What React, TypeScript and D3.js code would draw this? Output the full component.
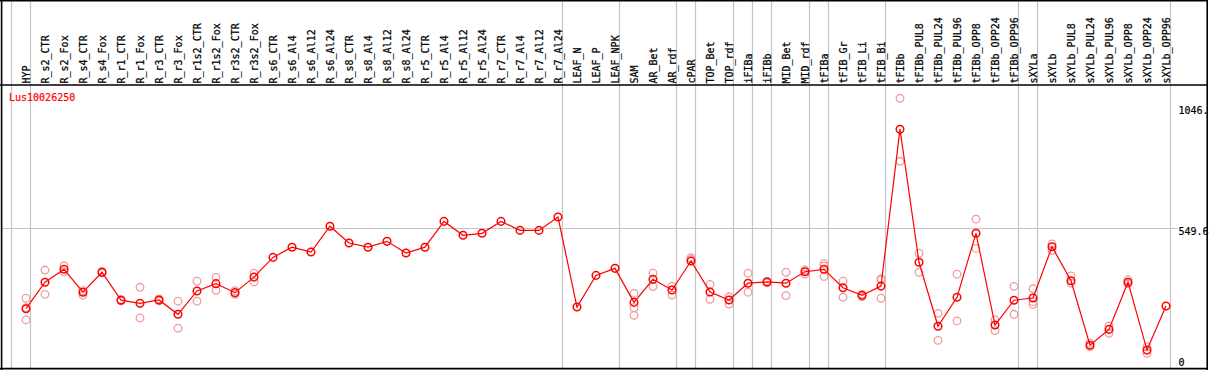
import React from "react";
import * as d3 from "d3";

const categories = [
  "HYP", "R_s2_CTR", "R_s2_Fox", "R_s4_CTR", "R_s4_Fox", "R_r1_CTR", "R_r1_Fox", "R_r3_CTR", "R_r3_Fox",
  "R_r1s2_CTR", "R_r1s2_Fox", "R_r3s2_CTR", "R_r3s2_Fox", "R_s6_CTR", "R_s6_Al4", "R_s6_Al12", "R_s6_Al24",
  "R_s8_CTR", "R_s8_Al4", "R_s8_Al12", "R_s8_Al24", "R_r5_CTR", "R_r5_Al4", "R_r5_Al12", "R_r5_Al24",
  "R_r7_CTR", "R_r7_Al4", "R_r7_Al12", "R_r7_Al24", "LEAF_N", "LEAF_P", "LEAF_NPK", "SAM", "AR_Bet", "AR_rdf",
  "cPAR", "TOP_Bet", "TOP_rdf", "iFIBa", "iFIBb", "MID_Bet", "MID_rdf", "tFIBa", "tFIB_Gr", "tFIB_Li", "tFIB_Bi",
  "tFIBb", "tFIBb_PUL8", "tFIBb_PUL24", "tFIBb_PUL96", "tFIBb_OPP8", "tFIBb_OPP24", "tFIBb_OPP96",
  "sXYLa", "sXYLb", "sXYLb_PUL8", "sXYLb_PUL24", "sXYLb_PUL96", "sXYLb_OPP8", "sXYLb_OPP24", "sXYLb_OPP96",
];

const meanValues = [
  219, 328, 381, 287, 369, 254, 241, 255, 196,
  292, 322, 285, 349, 430, 472, 452, 558,
  489, 472, 496, 448, 472, 578, 521, 529,
  578, 541, 541, 596, 226, 356, 385, 245, 340, 296,
  415, 288, 255, 324, 329, 324, 371, 381, 305, 274, 312,
  957, 410, 147, 266, 529, 152, 254,
  263, 474, 334, 69, 134, 328, 49, 230,
];

const replicateValues: number[][] = [
  [262, 173, 223], [378, 278], [395, 371], [293, 275], [372, 366], [257, 251], [307, 181], [259, 251], [250, 139],
  [332, 250], [348, 295], [293, 278], [365, 329], [], [], [], [],
  [], [], [], [], [], [], [], [],
  [], [], [], [], [], [], [], [282, 223, 192], [365, 310], [312, 275],
  [429, 422], [319, 258], [268, 238], [365, 287], [326, 332], [369, 273], [378, 361], [404, 395, 351], [332, 266], [278, 268], [342, 337, 262],
  [1084, 825], [447, 369], [200, 89], [361, 169], [587, 467], [173, 129], [311, 196],
  [301, 248, 237], [485, 458], [354, 324], [77, 63], [148, 118], [337, 321], [63, 36], [],
];

const groupStarts = [
  "HYP", "R_s2_CTR", "LEAF_N", "SAM", "cPAR", "TOP_Bet", "iFIBa", "iFIBb", "MID_Bet",
  "tFIBa", "tFIB_Gr", "tFIBb", "sXYLa", "sXYLb",
];

const yTickValues = [0, 549.6, 1046];
const yTickLabels = ["0", "549.6", "1046."];
const gridValues = [549.6];
const geneLabel = "Lus10026250";

export default function App() {
  const W = 1209;
  const H = 370;
  const headerY = 85;
  const plotRight = 1170;
  const font = "'DejaVu Sans Mono', monospace";
  const grey = "#c4c4c4";

  const x = d3.scaleBand<string>().domain(categories).range([11, plotRight]).padding(0);
  const px = (c: string) => (x(c) as number) + 15;
  const y = d3.scaleLinear().domain([0, 549.6]).range([362, 228.3]);

  const line = d3
    .line<number>()
    .x((_, i) => px(categories[i]))
    .y((d) => y(d));

  return (
    <svg
      width={W}
      height={H}
      style={{ position: "absolute", left: 0, top: 0, background: "#fff" }}
      xmlns="http://www.w3.org/2000/svg"
    >
      <rect x={0} y={0} width={W} height={H} fill="#fff" />
      {groupStarts.map((g) => (
        <line key={g} x1={(x(g) as number) + 0.5} x2={(x(g) as number) + 0.5} y1={0} y2={369} stroke={grey} strokeWidth={1.2} />
      ))}
      <line x1={plotRight + 0.5} x2={plotRight + 0.5} y1={0} y2={369} stroke={grey} strokeWidth={1.2} />
      {gridValues.map((v) => (
        <line key={v} x1={1} x2={1178} y1={Math.round(y(v)) + 0.5} y2={Math.round(y(v)) + 0.5} stroke={grey} strokeWidth={1.2} />
      ))}
      {categories.map((c) => (
        <text
          key={c}
          transform={`translate(${px(c) + 3.5},83.5) rotate(-90)`}
          fontFamily={font}
          fontSize={10}
          fill="#000"
          stroke="#000"
          strokeWidth={0.25}
          textAnchor="start"
        >
          {c}
        </text>
      ))}
      <text x={9} y={101} fontFamily={font} fontSize={10} fill="#ff0000" stroke="#ff0000" strokeWidth={0.2}>
        {geneLabel}
      </text>
      {yTickValues.map((v, i) => (
        <text
          key={v}
          x={1178.5}
          y={Math.min(y(v) + 3, 362) + 3.5}
          fontFamily={font}
          fontSize={10}
          fill="#000"
          stroke="#000"
          strokeWidth={0.2}
        >
          {yTickLabels[i]}
        </text>
      ))}
      {replicateValues.map((reps, i) =>
        reps.map((v, j) => (
          <circle
            key={`${i}-${j}`}
            cx={px(categories[i])}
            cy={y(v)}
            r={3.8}
            fill="none"
            stroke="#f09c9c"
            strokeWidth={1.3}
          />
        ))
      )}
      <path d={line(meanValues) as string} fill="none" stroke="#ff0000" strokeWidth={1.2} />
      {meanValues.map((v, i) => (
        <circle
          key={categories[i]}
          cx={px(categories[i])}
          cy={y(v)}
          r={3.8}
          fill="none"
          stroke="#ff0000"
          strokeWidth={1.5}
        />
      ))}
      <line x1={0} x2={1208} y1={headerY} y2={headerY} stroke="#000" strokeWidth={1.6} />
      <line x1={0} x2={1208} y1={0.75} y2={0.75} stroke="#000" strokeWidth={1.6} />
      <line x1={0} x2={1208} y1={368.6} y2={368.6} stroke="#000" strokeWidth={1.6} />
      <line x1={1.6} x2={1.6} y1={0} y2={370} stroke="#000" strokeWidth={1.6} />
      <line x1={1207.2} x2={1207.2} y1={0} y2={370} stroke="#000" strokeWidth={1.6} />
    </svg>
  );
}
